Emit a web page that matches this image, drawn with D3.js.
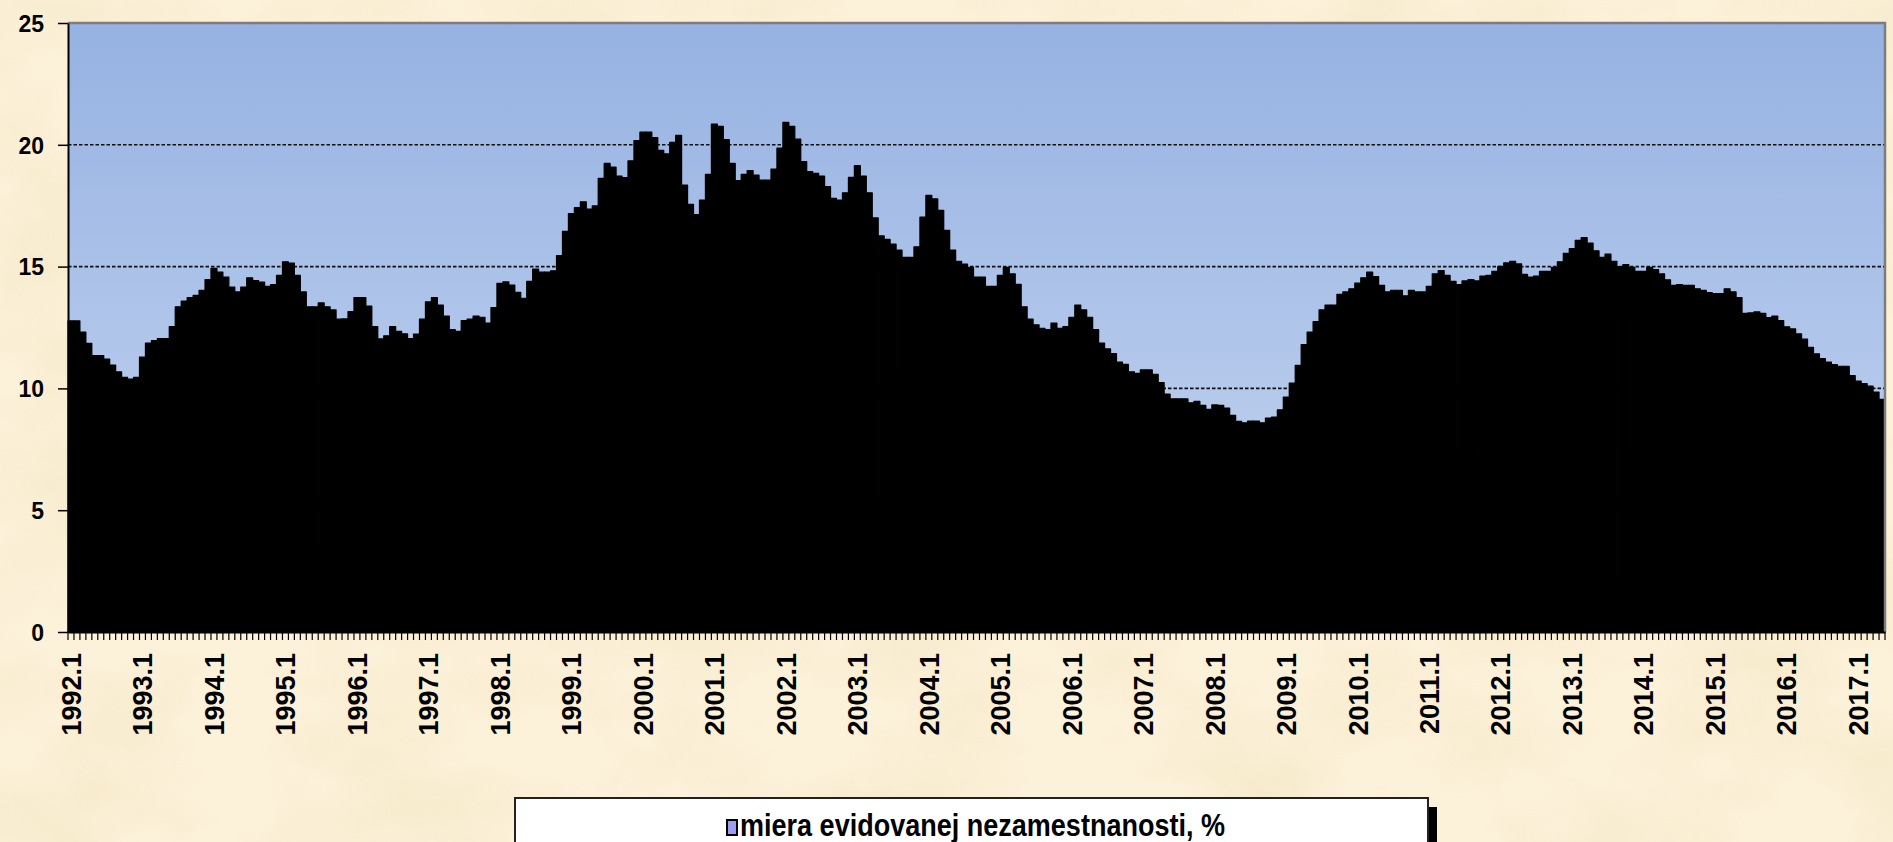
<!DOCTYPE html>
<html>
<head>
<meta charset="utf-8">
<script src="https://cdn.jsdelivr.net/npm/d3@7"></script>
<style>
  html, body { margin: 0; padding: 0; background: #fbf0d8; overflow: hidden; }
  svg { display: block; }
</style>
</head>
<body>
<div id="chart"></div>
<script>
// monthly registered unemployment rate, %, 1992.1 - 2017.5
const startYear = 1992;
const rate = [
  12.77, 12.77, 12.31, 11.85, 11.35, 11.35, 11.20, 10.96, 10.68, 10.45, 10.38, 10.45,
  11.28, 11.86, 11.96, 12.04, 12.04, 12.54, 13.35, 13.58, 13.73, 13.82, 14.03, 14.47,
  14.93, 14.77, 14.57, 14.16, 13.96, 14.16, 14.54, 14.43, 14.36, 14.19, 14.26, 14.64,
  15.20, 15.14, 14.64, 13.96, 13.35, 13.35, 13.51, 13.35, 13.22, 12.84, 12.85, 13.15,
  13.73, 13.73, 13.38, 12.54, 12.03, 12.16, 12.54, 12.34, 12.24, 12.04, 12.23, 12.84,
  13.55, 13.73, 13.42, 12.97, 12.41, 12.34, 12.78, 12.84, 12.97, 12.92, 12.68, 13.32,
  14.31, 14.37, 14.24, 13.94, 13.70, 14.39, 14.90, 14.77, 14.77, 14.83, 15.45, 16.45,
  17.18, 17.42, 17.66, 17.36, 17.49, 18.62, 19.24, 19.08, 18.72, 18.65, 19.34, 20.17,
  20.52, 20.52, 20.30, 19.77, 19.63, 20.10, 20.39, 18.35, 17.56, 17.13, 17.73, 18.79,
  20.85, 20.76, 20.21, 19.24, 18.53, 18.79, 18.94, 18.76, 18.55, 18.55, 19.00, 19.86,
  20.92, 20.76, 20.23, 19.31, 18.90, 18.83, 18.72, 18.28, 17.80, 17.73, 18.03, 18.66,
  19.15, 18.72, 18.03, 17.00, 16.26, 16.12, 15.92, 15.68, 15.38, 15.38, 15.81, 17.03,
  17.92, 17.78, 17.31, 16.49, 15.68, 15.22, 15.10, 14.97, 14.57, 14.57, 14.19, 14.19,
  14.64, 14.97, 14.70, 14.27, 13.35, 12.84, 12.61, 12.47, 12.41, 12.68, 12.47, 12.54,
  12.92, 13.42, 13.22, 12.92, 12.41, 11.86, 11.62, 11.43, 11.08, 10.99, 10.68, 10.62,
  10.76, 10.76, 10.58, 10.24, 9.77, 9.57, 9.57, 9.57, 9.41, 9.47, 9.30, 9.14,
  9.32, 9.30, 9.19, 8.89, 8.65, 8.59, 8.66, 8.66, 8.59, 8.78, 8.82, 9.12,
  9.64, 10.22, 10.95, 11.80, 12.31, 12.74, 13.22, 13.42, 13.42, 13.86, 13.96, 14.09,
  14.32, 14.54, 14.77, 14.59, 14.23, 13.96, 14.03, 14.03, 13.80, 14.03, 13.96, 13.96,
  14.19, 14.70, 14.84, 14.64, 14.39, 14.26, 14.41, 14.47, 14.41, 14.61, 14.64, 14.81,
  15.01, 15.15, 15.22, 15.11, 14.68, 14.57, 14.61, 14.80, 14.80, 14.97, 15.20, 15.54,
  15.74, 16.08, 16.19, 15.96, 15.65, 15.38, 15.51, 15.22, 15.00, 15.08, 14.97, 14.80,
  14.80, 14.97, 14.88, 14.70, 14.46, 14.23, 14.26, 14.23, 14.23, 14.09, 14.02, 13.93,
  13.89, 13.89, 14.09, 13.96, 13.73, 13.08, 13.10, 13.14, 13.08, 12.91, 12.97, 12.78,
  12.53, 12.44, 12.24, 12.02, 11.69, 11.42, 11.22, 11.08, 10.98, 10.91, 10.91, 10.53,
  10.30, 10.20, 10.09, 9.85, 9.55
];
const yTicks = [0, 5, 10, 15, 20, 25];
const legendLabel = "miera evidovanej nezamestnanosti, %";

// category labels "1992.1", "1992.2", ...
const months = rate.map((d, i) => (startYear + Math.floor(i / 12)) + "." + (i % 12 + 1));
const yearLabels = months.filter((m, i) => i % 12 === 0);

const width = 1893, height = 842;
const font = "'Liberation Sans', Arial, Helvetica, sans-serif";

let svg = d3.select("#chart").append("svg")
    .attr("width", width)
    .attr("height", height);

let defs = svg.append("defs");

// parchment look
let paper = defs.append("filter").attr("id", "paper")
    .attr("x", 0).attr("y", 0).attr("width", "100%").attr("height", "100%");
paper.append("feTurbulence")
    .attr("type", "fractalNoise")
    .attr("baseFrequency", "0.006 0.009")
    .attr("numOctaves", 4)
    .attr("seed", 7);
paper.append("feColorMatrix")
    .attr("type", "matrix")
    .attr("values", "0 0 0 0 0.90  0 0 0 0 0.79  0 0 0 0 0.55  1.9 0 0 0 -0.78");

let plotGrad = defs.append("linearGradient").attr("id", "plotGrad")
    .attr("x1", 0).attr("y1", 0).attr("x2", 0).attr("y2", 1);
plotGrad.append("stop").attr("offset", "0%").attr("stop-color", "#96b2e2");
plotGrad.append("stop").attr("offset", "100%").attr("stop-color", "#c8d7f1");

svg.append("rect").attr("width", width).attr("height", height).attr("fill", "#fcf1d9");
svg.append("rect").attr("width", width).attr("height", height)
    .attr("filter", "url(#paper)").attr("opacity", 0.7);

// Scales
let x = d3.scaleBand()
    .domain(months)
    .range([68, 1885])
    .padding(0);
let y = d3.scaleLinear()
    .domain([0, 25])
    .range([632, 23]);

// plot area
svg.append("rect")
    .attr("x", x.range()[0])
    .attr("y", y(25))
    .attr("width", x.range()[1] - x.range()[0])
    .attr("height", y(0) - y(25))
    .attr("fill", "url(#plotGrad)");

// dashed grid lines behind the bars
svg.append("g").selectAll("line")
    .data(yTicks.filter(v => v > 0 && v < 25))
    .join("line")
    .attr("x1", x.range()[0])
    .attr("x2", x.range()[1])
    .attr("y1", d => y(d))
    .attr("y2", d => y(d))
    .attr("stroke", "#111")
    .attr("stroke-width", 1.6)
    .attr("stroke-dasharray", "3.5,2");

// bars
svg.append("g").selectAll("rect")
    .data(rate)
    .join("rect")
    .attr("x", (d, i) => x(months[i]))
    .attr("y", d => y(d))
    .attr("width", x.bandwidth())
    .attr("height", d => y(0) - y(d))
    .attr("fill", "#000")
    .attr("stroke", "#000")
    .attr("stroke-width", 1.2)
    .attr("stroke-linejoin", "round");

// grey frame on top and right
svg.append("path")
    .attr("d", `M${x.range()[0]},${y(25)}H${x.range()[1]}V${y(0)}`)
    .attr("fill", "none")
    .attr("stroke", "#7d7d7d")
    .attr("stroke-width", 2.5);

// Y axis
svg.append("g")
    .attr("transform", `translate(${x.range()[0]},0)`)
    .call(d3.axisLeft(y).tickValues(yTicks).tickSize(10).tickSizeOuter(0).tickPadding(14).tickFormat(d3.format("d")))
    .attr("font-family", font)
    .attr("font-size", 23)
    .attr("font-weight", "bold")
    .call(g => g.select(".domain").attr("stroke", "#000").attr("stroke-width", 2))
    .call(g => g.selectAll(".tick line").attr("stroke", "#000").attr("stroke-width", 1.5))
    .call(g => g.selectAll(".tick text").attr("fill", "#000").attr("dy", "0.36em"));

// month tick marks on the category boundaries
let bounds = months.map(m => x(m)).concat([x.range()[1]]);
svg.append("g").selectAll("line")
    .data(bounds)
    .join("line")
    .attr("x1", d => d)
    .attr("x2", d => d)
    .attr("y1", y(0))
    .attr("y2", y(0) + 8)
    .attr("stroke", "#000")
    .attr("stroke-width", 1.2);

// X axis with yearly labels
svg.append("g")
    .attr("transform", `translate(0,${y(0)})`)
    .call(d3.axisBottom(x).tickValues(yearLabels).tickSize(0).tickSizeOuter(0))
    .attr("font-family", font)
    .attr("font-size", 27)
    .attr("font-weight", "bold")
    .call(g => g.select(".domain").attr("stroke", "#000").attr("stroke-width", 2))
    .call(g => g.selectAll(".tick text")
        .attr("fill", "#000")
        .attr("transform", "rotate(-90)")
        .attr("text-anchor", "end")
        .attr("x", -21)
        .attr("y", 0)
        .attr("dy", "0.36em"));

// Legend
let legend = svg.append("g");
legend.append("rect")
    .attr("x", 524).attr("y", 807)
    .attr("width", 913).attr("height", 60)
    .attr("fill", "#000");
legend.append("rect")
    .attr("x", 515).attr("y", 798)
    .attr("width", 913).attr("height", 60)
    .attr("fill", "#fff")
    .attr("stroke", "#222")
    .attr("stroke-width", 2);
legend.append("rect")
    .attr("x", 727).attr("y", 820)
    .attr("width", 10).attr("height", 15)
    .attr("fill", "#9c9cf0")
    .attr("stroke", "#000")
    .attr("stroke-width", 2);
legend.append("text")
    .attr("x", 740)
    .attr("y", 836)
    .attr("font-family", "'Liberation Sans Narrow', 'Arial Narrow', " + font)
    .attr("font-size", 31)
    .attr("font-weight", "bold")
    .attr("textLength", 485)
    .attr("lengthAdjust", "spacingAndGlyphs")
    .attr("fill", "#000")
    .text(legendLabel);
</script>
</body>
</html>
